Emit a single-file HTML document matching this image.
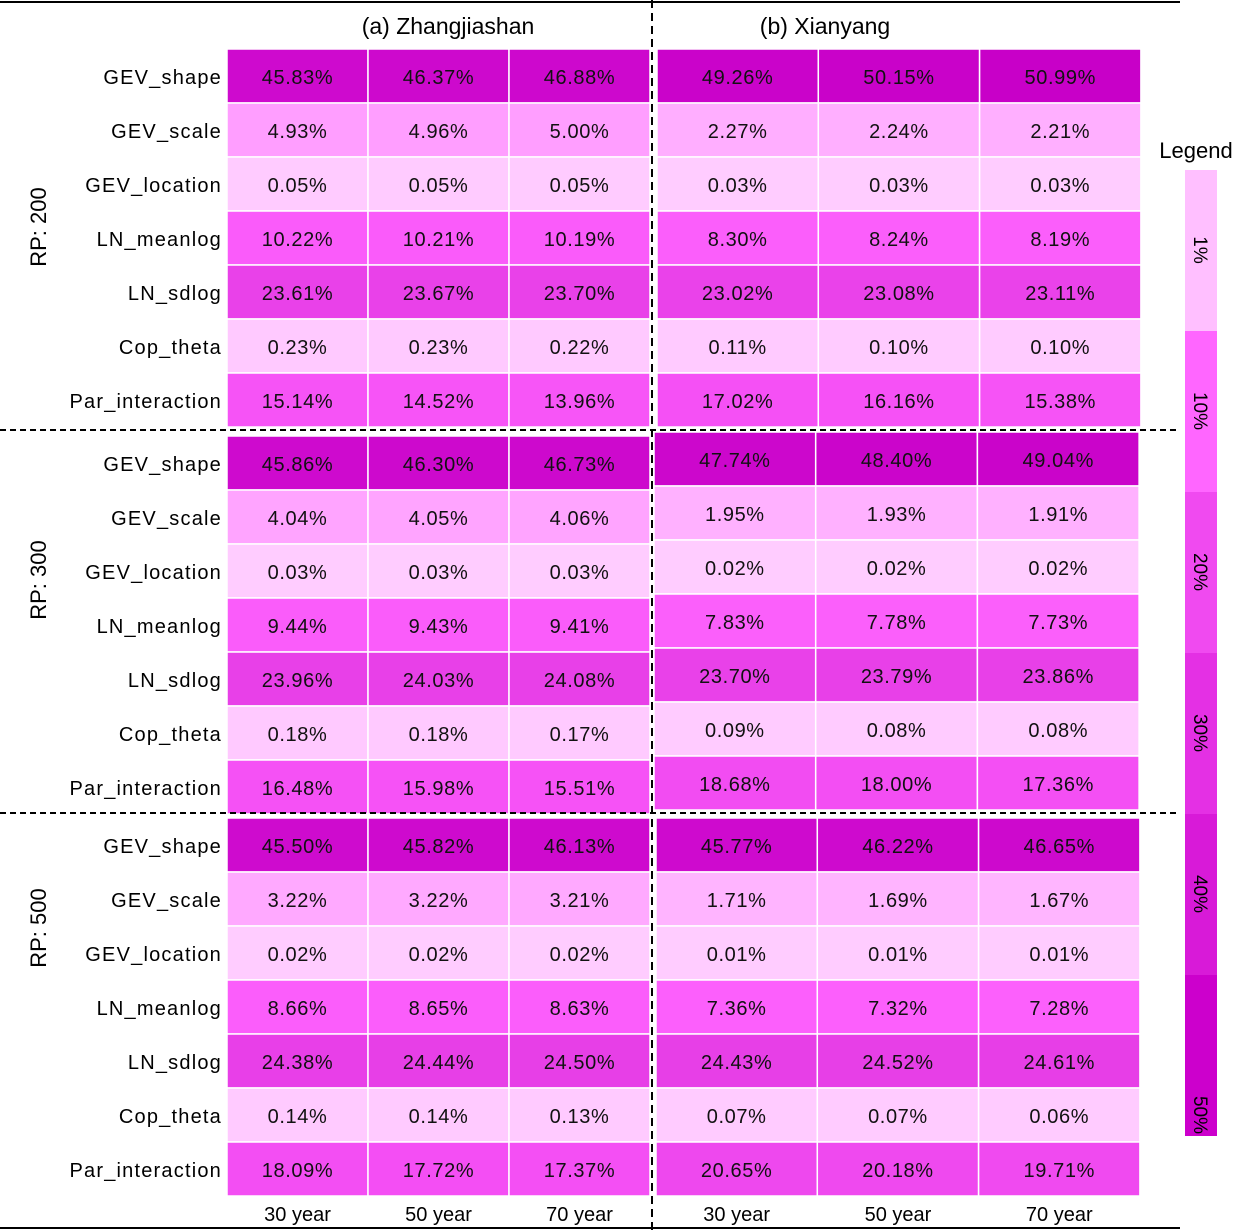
<!DOCTYPE html>
<html><head><meta charset="utf-8"><style>
html,body{margin:0;padding:0;background:#fff;}
svg{display:block;font-family:"Liberation Sans",sans-serif;}
</style></head><body>
<svg id="chart" width="1237" height="1230" xmlns="http://www.w3.org/2000/svg"></svg>
<script>
const params = ["GEV_shape","GEV_scale","GEV_location","LN_meanlog","LN_sdlog","Cop_theta","Par_interaction"];
const periods = ["30 year","50 year","70 year"];
const rpLabels = ["RP: 200","RP: 300","RP: 500"];
const zhang200 = [[45.83,46.37,46.88],[4.93,4.96,5.00],[0.05,0.05,0.05],[10.22,10.21,10.19],[23.61,23.67,23.70],[0.23,0.23,0.22],[15.14,14.52,13.96]];
const zhang300 = [[45.86,46.30,46.73],[4.04,4.05,4.06],[0.03,0.03,0.03],[9.44,9.43,9.41],[23.96,24.03,24.08],[0.18,0.18,0.17],[16.48,15.98,15.51]];
const zhang500 = [[45.50,45.82,46.13],[3.22,3.22,3.21],[0.02,0.02,0.02],[8.66,8.65,8.63],[24.38,24.44,24.50],[0.14,0.14,0.13],[18.09,17.72,17.37]];
const xian200 = [[49.26,50.15,50.99],[2.27,2.24,2.21],[0.03,0.03,0.03],[8.30,8.24,8.19],[23.02,23.08,23.11],[0.11,0.10,0.10],[17.02,16.16,15.38]];
const xian300 = [[47.74,48.40,49.04],[1.95,1.93,1.91],[0.02,0.02,0.02],[7.83,7.78,7.73],[23.70,23.79,23.86],[0.09,0.08,0.08],[18.68,18.00,17.36]];
const xian500 = [[45.77,46.22,46.65],[1.71,1.69,1.67],[0.01,0.01,0.01],[7.36,7.32,7.28],[24.43,24.52,24.61],[0.07,0.07,0.06],[20.65,20.18,19.71]];
const legendLabels = ["1%","10%","20%","30%","40%","50%"];
const legendColors = ["#ffbfff","#ff66ff","#f04af0","#e430e4","#d81ad8","#cc00cc"];

const NS="http://www.w3.org/2000/svg";
const svg=document.getElementById('chart');
function mk(tag,attrs,parent){const e=document.createElementNS(NS,tag);for(const k in attrs)e.setAttribute(k,attrs[k]);(parent||svg).appendChild(e);return e;}
const stops=[[0,[255,204,255]],[2,[255,176,255]],[5,[255,158,255]],[7,[252,96,252]],[17,[245,80,245]],[24,[232,64,232]],[45,[207,12,207]],[51,[200,0,200]]];
function color(v){
  for(let i=0;i<stops.length-1;i++){const a=stops[i],b=stops[i+1];
    if(v<=b[0]){const t=Math.max(0,(v-a[0])/(b[0]-a[0]));return 'rgb('+a[1].map((c,j)=>Math.round(c+(b[1][j]-c)*t)).join(',')+')';}}
  return 'rgb(200,0,200)';
}
const rowH=54;
function block(data,x0,colW,y0,name,withLabels){
  const g=mk('g',{});
  
  
  data.forEach((row,r)=>{
    if(withLabels){
      const t=mk('text',{x:222,y:y0+r*rowH+rowH/2+8,'text-anchor':'end','font-size':20,'letter-spacing':'1.2',fill:'#000'},g);
      t.textContent=params[r];
      
      
    }
    row.forEach((v,c)=>{
      const rc=mk('rect',{x:x0+c*colW,y:y0+r*rowH,width:colW,height:rowH,fill:color(v),stroke:'#fff','stroke-width':1.5},g);
      
      
      const t=mk('text',{x:x0+c*colW+colW/2,y:y0+r*rowH+rowH/2+8,'text-anchor':'middle','font-size':20,'letter-spacing':'0.6',fill:'#111'},g);
      t.textContent=v.toFixed(2)+'%';
      
      
    });
  });
}
block(zhang200,227,141,49,'zhangjiashan-rp200',true);
block(zhang300,227,141,436,'zhangjiashan-rp300',true);
block(zhang500,227,141,818,'zhangjiashan-rp500',true);
block(xian200,657,161.3,49,'xianyang-rp200',false);
block(xian300,654,161.7,432,'xianyang-rp300',false);
block(xian500,656,161.3,818,'xianyang-rp500',false);

rpLabels.forEach((l,i)=>{
  const cy=[227,580,928][i];
  const t=mk('text',{x:0,y:0,'text-anchor':'middle','font-size':22,transform:'translate(46,'+cy+') rotate(-90)'});
  t.textContent=l;
  
  
});
const t1=mk('text',{x:448,y:34,'text-anchor':'middle','font-size':23});t1.textContent='(a) Zhangjiashan';


const t2=mk('text',{x:825,y:34,'text-anchor':'middle','font-size':23});t2.textContent='(b) Xianyang';



[[227,141],[656,161.3]].forEach(([x0,w])=>{
  periods.forEach((p,i)=>{
    const t=mk('text',{x:x0+i*w+w/2,y:1221,'text-anchor':'middle','font-size':20});
    t.textContent=p;
    
    
  });
});

mk('line',{x1:0,y1:2,x2:1180,y2:2,stroke:'#000','stroke-width':2});
mk('line',{x1:0,y1:1228,x2:1180,y2:1228,stroke:'#000','stroke-width':2});
mk('line',{x1:652,y1:0,x2:652,y2:1230,stroke:'#000','stroke-width':2,'stroke-dasharray':'8,5'});
mk('line',{x1:0,y1:430,x2:1180,y2:430,stroke:'#000','stroke-width':2,'stroke-dasharray':'6,4'});
mk('line',{x1:0,y1:813,x2:1180,y2:813,stroke:'#000','stroke-width':2,'stroke-dasharray':'6,4'});

const lt=mk('text',{x:1196,y:158,'text-anchor':'middle','font-size':22});lt.textContent='Legend';


legendLabels.forEach((l,i)=>{
  const y=170+i*161;
  const r=mk('rect',{x:1185,y:y,width:32,height:161,fill:legendColors[i]});
  
  
  const ty=i===legendLabels.length-1?y+140:y+80;
  const t=mk('text',{x:0,y:0,'text-anchor':'middle','font-size':19,transform:'translate(1194,'+ty+') rotate(90)'});
  t.textContent=l;
  
  
});
</script>
</body></html>
